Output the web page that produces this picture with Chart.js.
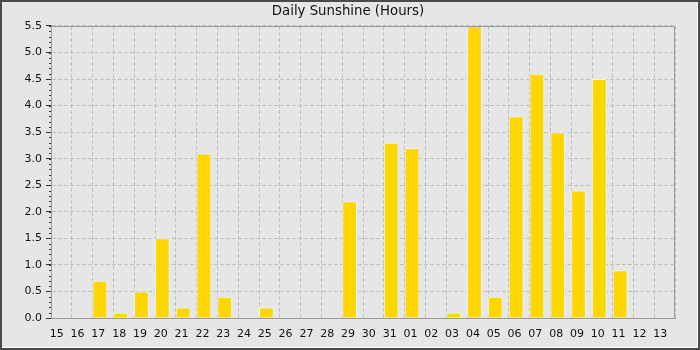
<!DOCTYPE html>
<html>
<head>
<meta charset="utf-8">
<script src="https://cdn.jsdelivr.net/npm/chart.js@4.4.1/dist/chart.umd.min.js"></script>
<style>
  html, body { margin: 0; padding: 0; background: #e6e6e6; }
  #wrap { position: relative; width: 700px; height: 350px; }
  #frame { position: absolute; left: 0; top: 0; right: 0; bottom: 0;
    border: 2px solid #4a4a4a; box-shadow: inset -1px -1px 0 #ffffff; pointer-events: none; }
</style>
</head>
<body>
<div id="wrap">
  <canvas id="sunChart" width="700" height="350"></canvas>
  <div id="frame"></div>
</div>
<script>
const days = ['15','16','17','18','19','20','21','22','23','24','25','26','27','28','29','30','31',
  '01','02','03','04','05','06','07','08','09','10','11','12','13'];
const sunHours = [0, 0, 0.7, 0.1, 0.5, 1.5, 0.2, 3.1, 0.4, 0, 0.2, 0, 0, 0, 2.2, 0, 3.3,
  3.2, 0, 0.1, 5.5, 0.4, 3.8, 4.6, 3.5, 2.4, 4.5, 0.9, 0, 0];
const yMax = 5.5;
const yStep = 0.5;
const yMinorStep = 0.1;
const chartTitle = 'Daily Sunshine (Hours)';

// bars sit toward the left of each day slot in the original
const barShift = -0.15;

const fontFamily = "'DejaVu Sans', sans-serif";

// plot frame, minor ticks on the y axis, and the title centred on the whole canvas
const framePlugin = {
  id: 'frame',
  afterDatasetsDraw(chart) {
    const { ctx, chartArea: a, scales } = chart;
    ctx.save();
    ctx.strokeStyle = '#999999';
    ctx.lineWidth = 1;
    ctx.strokeRect(Math.round(a.left) + 0.5, Math.round(a.top) + 0.5,
      Math.round(a.right - a.left) - 1, Math.round(a.bottom - a.top));
    ctx.strokeStyle = '#333333';
    const y = scales.y;
    for (let v = 0; v <= yMax + 0.001; v += yMinorStep) {
      const py = Math.round(y.getPixelForValue(v)) + 0.5;
      ctx.beginPath();
      ctx.moveTo(a.left - 2, py);
      ctx.lineTo(a.left, py);
      ctx.stroke();
    }
    ctx.fillStyle = '#111111';
    ctx.font = "13.3px 'DejaVu Sans', sans-serif";
    ctx.textAlign = 'center';
    ctx.textBaseline = 'middle';
    ctx.fillText(chartTitle, chart.width / 2 - 2, 12);
    ctx.restore();
  }
};

new Chart(document.getElementById('sunChart'), {
  type: 'bar',
  data: {
    labels: days,
    datasets: [{
      data: sunHours.map((v, i) => ({ x: i + barShift, y: v })),
      xAxisID: 'xb',
      backgroundColor: '#ffd700',
      borderColor: '#eef5ff',
      borderWidth: 1,
      borderSkipped: 'bottom',
      barPercentage: 0.71,
      categoryPercentage: 1.0
    }]
  },
  options: {
    responsive: false,
    animation: false,
    layout: { padding: { left: 0, right: 24.7, top: 0, bottom: 0 } },
    plugins: {
      legend: { display: false },
      tooltip: { enabled: false },
      // keeps the room at the top; the text itself is drawn by framePlugin
      title: {
        display: true,
        text: chartTitle,
        color: 'rgba(0,0,0,0)',
        font: { family: fontFamily, size: 13.3, weight: 'normal' },
        padding: { top: 4, bottom: 6 }
      }
    },
    scales: {
      x: {
        type: 'category',
        grid: {
          color: '#c0c0c0',
          lineWidth: 1,
          drawTicks: false,
          offset: true
        },
        border: { display: true, color: '#999999', dash: [4, 2] },
        ticks: {
          color: '#111111',
          font: { family: fontFamily, size: 11 },
          padding: 10,
          labelOffset: -4.7,
          maxRotation: 0,
          autoSkip: false
        },
        afterFit(scale) { scale.height = 32; }
      },
      xb: {
        type: 'linear',
        display: false,
        min: -0.5,
        max: days.length - 0.5,
        offset: false
      },
      y: {
        min: 0,
        max: yMax,
        grid: {
          color: '#c0c0c0',
          lineWidth: 1,
          tickLength: 5,
          tickColor: '#333333',
          tickBorderDash: []
        },
        border: { display: true, color: '#999999', dash: [4, 2] },
        ticks: {
          stepSize: yStep,
          color: '#111111',
          font: { family: fontFamily, size: 11 },
          padding: 4,
          callback: v => v.toFixed(1)
        },
        afterFit(scale) { scale.width = 51; }
      }
    }
  },
  plugins: [framePlugin]
});
</script>
</body>
</html>
